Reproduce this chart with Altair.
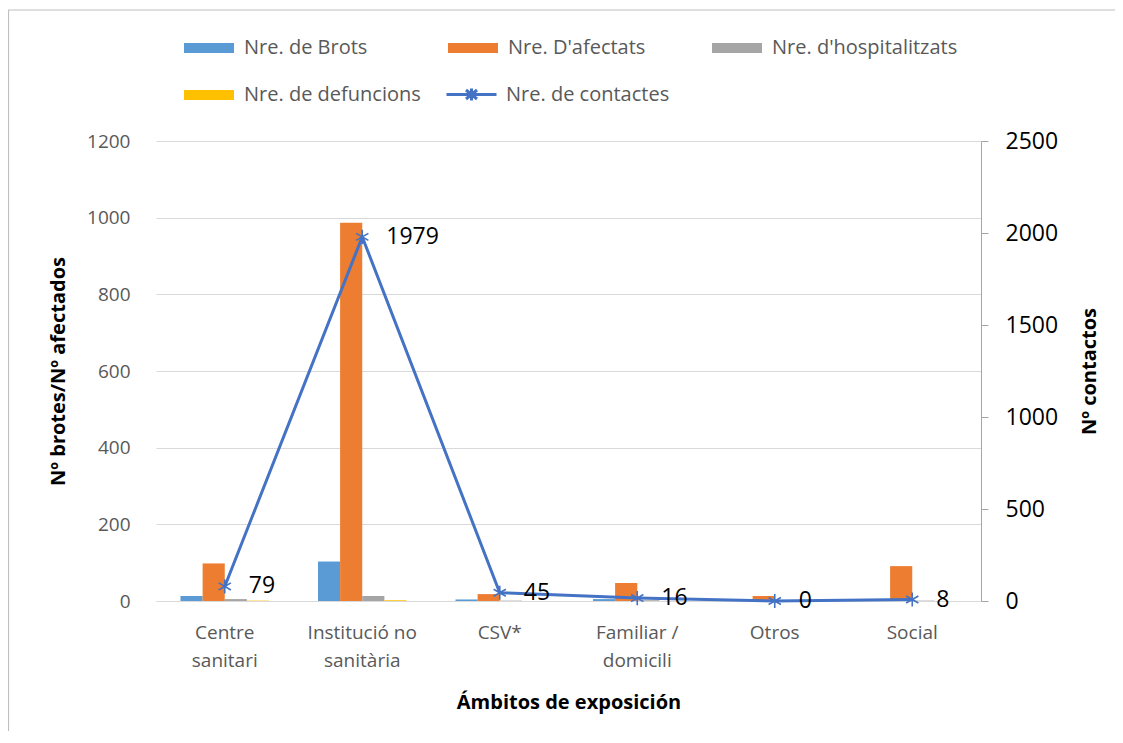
import altair as alt
import pandas as pd

# ---- data ----
categories = ["Centre\nsanitari", "Institució no\nsanitària", "CSV*",
              "Familiar /\ndomicili", "Otros", "Social"]
series = ["Nre. de Brots", "Nre. D'afectats", "Nre. d'hospitalitzats", "Nre. de defuncions"]
brots = [13, 103, 4, 5, 2, 3]
afectats = [98, 987, 18, 47, 13, 91]
hospitalitzats = [5, 13, 1, 2, 0, 1]
defuncions = [1, 2, 0, 0, 0, 0]
line_name = "Nre. de contactes"
contactes = [79, 1979, 45, 16, 0, 8]

left_ticks = [0, 200, 400, 600, 800, 1000, 1200]
right_ticks = [0, 500, 1000, 1500, 2000, 2500]

colors = ["#5B9BD5", "#ED7D31", "#A5A5A5", "#FFC000"]
line_color = "#4472C4"
FONT = "Open Sans"

# order in which the legend grid receives its entries (renders row-wise as Brots, Afectats, Hosp / Def)
legend_values = [series[0], series[2], series[1], series[3]]

rows = []
for s, vals in zip(series, [brots, afectats, hospitalitzats, defuncions]):
    for c, v in zip(categories, vals):
        rows.append({"ambit": c, "serie": s, "valor": v})
bar_df = pd.DataFrame(rows)
line_df = pd.DataFrame({"ambit": categories, "contactes": contactes, "serie": [line_name] * len(categories)})

RECT = "M-1,-0.5H4V0.5H-1Z"
LINE_SYM = "M-1,0H4M1.5,-0.6V0.6M0.95,-0.45L2.05,0.45M0.95,0.45L2.05,-0.45"
STAR = "M0,-1V1M-0.87,-0.5L0.87,0.5M-0.87,0.5L0.87,-0.5"

X = alt.X("ambit:N", sort=categories,
          scale=alt.Scale(domain=categories, paddingInner=0.356, paddingOuter=0.178),
          axis=alt.Axis(title="Ámbitos de exposición", labelExpr="split(datum.label, '\\n')",
                        labelAngle=0, labelColor="#595959", labelFont=FONT, labelFontSize=19,
                        labelLineHeight=28, labelPadding=22, domainColor="#d9d9d9", ticks=False,
                        titleFont=FONT, titleFontSize=20, titleFontWeight="bold", titleColor="#000000",
                        titlePadding=22))

bars = alt.Chart(bar_df).mark_bar().encode(
    x=X,
    xOffset=alt.XOffset("serie:N", sort=series, scale=alt.Scale(domain=series, paddingInner=0, paddingOuter=0)),
    y=alt.Y("valor:Q", scale=alt.Scale(domain=[0, 1200], nice=False),
            axis=alt.Axis(values=left_ticks, format="d", title="Nº brotes/Nº afectados", grid=True,
                          gridColor="#d9d9d9", domain=False, ticks=False, labelColor="#595959",
                          labelFont=FONT, labelFontSize=19, labelPadding=26, titleFont=FONT,
                          titleFontSize=20, titleFontWeight="bold", titleColor="#000000", titlePadding=18)),
    color=alt.Color("serie:N", sort=series, scale=alt.Scale(domain=series, range=colors),
                    legend=alt.Legend(title=None, orient="none", legendX=28, legendY=-103, columns=3,
                                      values=legend_values, gridAlign="all", columnPadding=18, rowPadding=27,
                                      symbolType=RECT, symbolSize=400, symbolStrokeWidth=0,
                                      labelOffset=40, labelFont=FONT, labelFontSize=20, labelLimit=400,
                                      labelColor="#595959")),
)

Y2 = alt.Y("contactes:Q", scale=alt.Scale(domain=[0, 2500], nice=False),
           axis=alt.Axis(orient="right", values=right_ticks, format="d", title="Nº contactos", grid=False,
                         domainColor="#a6a6a6", tickColor="#a6a6a6", tickSize=7, labelColor="#000000",
                         labelFont=FONT, labelFontSize=23, labelPadding=17, titleFont=FONT,
                         titleFontSize=20, titleFontWeight="bold", titleColor="#000000",
                         titleAngle=270, titlePadding=42))

line = alt.Chart(line_df).mark_line(strokeWidth=3).encode(
    x=X, y=Y2,
    stroke=alt.Stroke("serie:N", scale=alt.Scale(domain=[line_name], range=[line_color]),
                      legend=alt.Legend(title=None, orient="none", legendX=289, legendY=-58,
                                        symbolType=LINE_SYM, symbolSize=400, symbolStrokeWidth=3,
                                        labelOffset=38, labelFont=FONT, labelFontSize=20, labelLimit=400,
                                        labelColor="#595959")),
)
points = alt.Chart(line_df).mark_point(shape=STAR, size=200, filled=False, stroke=line_color,
                                       strokeWidth=1.6, opacity=1).encode(x=X, y=Y2)
labels = alt.Chart(line_df).mark_text(align="left", baseline="middle", dx=24, font=FONT,
                                      fontSize=23, color="#000000").encode(
    x=X, y=Y2, text="contactes:Q")

right = alt.layer(line, points, labels)

# chart-area frame (decoration only)
frame = alt.Chart(pd.DataFrame({"f": [0]})).mark_rect(
    fillOpacity=0, stroke="#bfbfbf", strokeWidth=1.2
).encode(x=alt.value(-147.5), x2=alt.value(1200), y=alt.value(-131), y2=alt.value(800))

chart = alt.layer(frame, bars, right).resolve_scale(y="independent").properties(
    width=825, height=460,
    autosize=alt.AutoSizeParams(type="none"),
    padding={"left": 148, "top": 133, "right": 134, "bottom": 130},
).configure_view(stroke=None)

chart.save("out.html", embed_options={"renderer": "svg", "actions": False})
